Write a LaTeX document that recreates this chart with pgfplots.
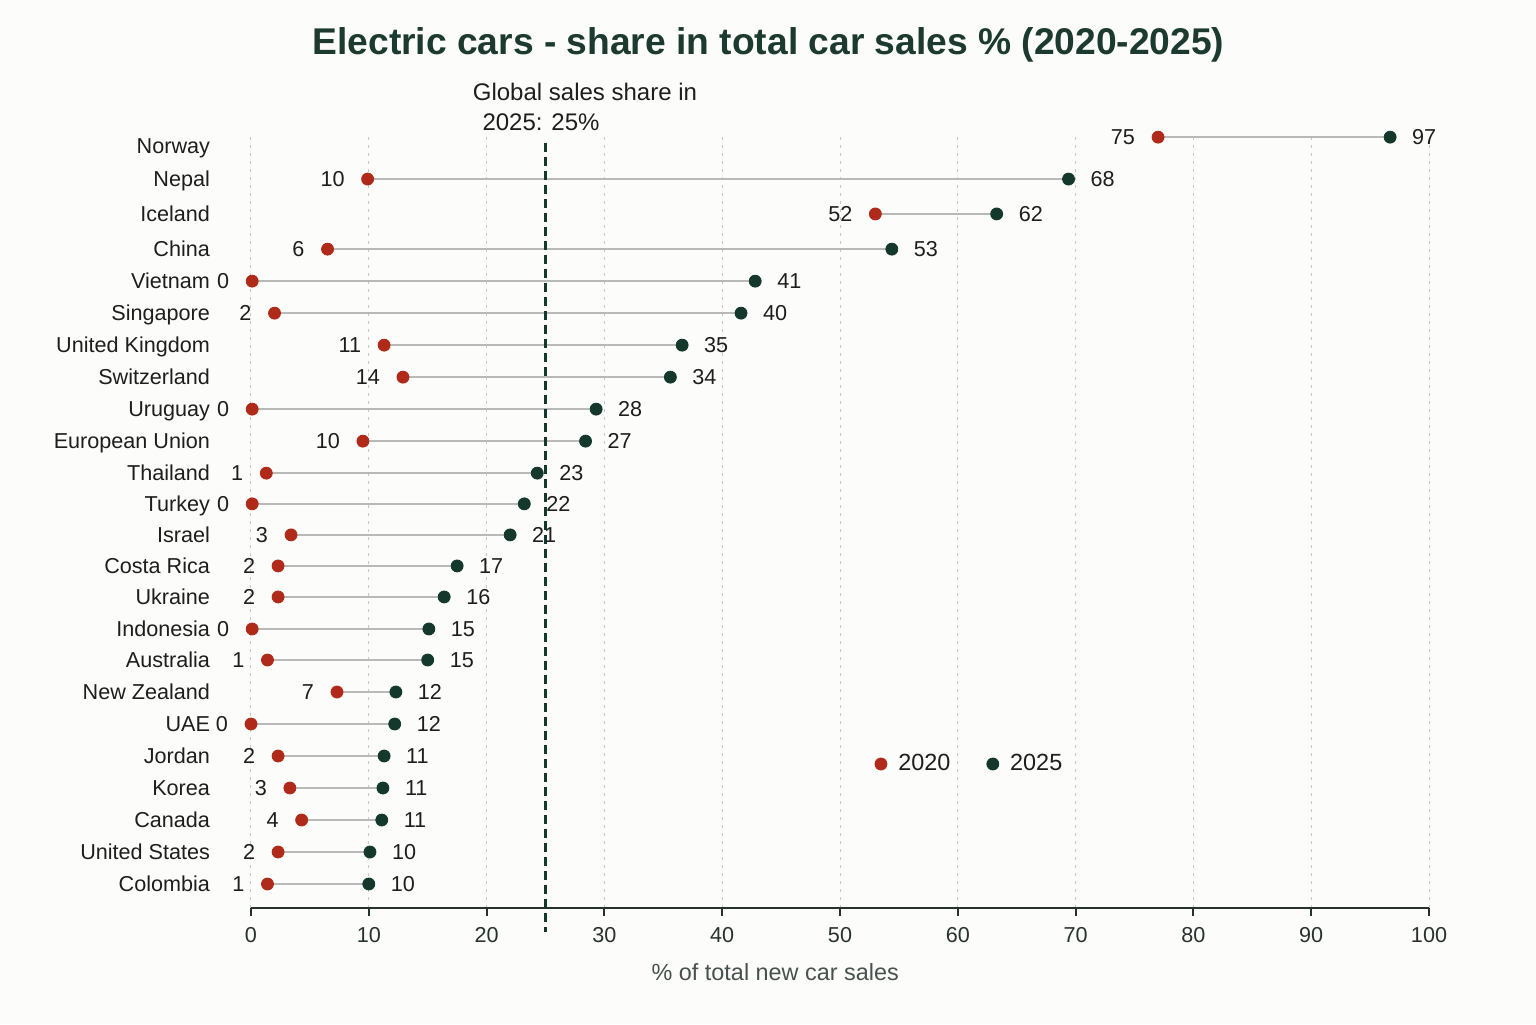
\documentclass[border=0pt]{standalone}
\usepackage{pgfplots}
\pgfplotsset{compat=1.18}
\usepackage{pgfplotstable}
\usepackage{fontspec}
\setmainfont{Liberation Sans}
\definecolor{cA}{HTML}{B02A1A}
\definecolor{cB}{HTML}{15382C}
\definecolor{ttl}{HTML}{1C3A2F}
\definecolor{bg}{HTML}{FCFCFA}
\definecolor{txt}{HTML}{1E1E1E}
\definecolor{tick}{HTML}{27322E}

% y = row position, a = 2020 share, b = 2025 share, la/lb = printed labels
\pgfplotstableread{
y     a     b     la  lb
24.09 77.0  96.7  75  97
22.78 9.9   69.4  10  68
21.69 53.0  63.3  52  62
20.59 6.5   54.4  6   53
19.59 0.1   42.8  0   41
18.59 2.0   41.6  2   40
17.59 11.3  36.6  11  35
16.59 12.9  35.6  14  34
15.59 0.1   29.3  0   28
14.59 9.5   28.4  10  27
13.59 1.3   24.3  1   23
12.63 0.1   23.2  0   22
11.66 3.4   22.0  3   21
10.69 2.3   17.5  2   17
9.72  2.3   16.4  2   16
8.72  0.1   15.1  0   15
7.75  1.4   15.0  1   15
6.75  7.3   12.3  7   12
5.75  0.0   12.2  0   12
4.75  2.3   11.3  2   11
3.75  3.3   11.2  3   11
2.75  4.3   11.1  4   11
1.75  2.3   10.1  2   10
0.75  1.4   10.0  1   10
}\data

\begin{document}
\begin{tikzpicture}[x=1pt,y=1pt]
\fill[bg] (0,0) rectangle (768,512);
\node[anchor=base, font=\fontsize{18.6}{22}\selectfont\bfseries, text=ttl] at (384.25,484.5) {Electric cars - share in total car sales \% (2020-2025)};
\begin{axis}[
  at={(125.5pt,58pt)}, anchor=south west,
  scale only axis, width=589pt, height=387.5pt,
  xmin=0, xmax=100, ymin=0, ymax=24.22,
  clip=false,
  /pgf/number format/assume math mode=true,
  axis x line=bottom, axis y line=left,
  axis line style={-},
  x axis line style={line width=1pt, color=tick},
  y axis line style={draw=none},
  xtick={0,10,...,100},
  xtick align=outside,
  major tick length=4pt,
  xtick style={line width=1pt, color=tick},
  ytick style={draw=none},
  xmajorgrids,
  grid style={color=gray!45, line width=0.5pt, dash pattern=on 1.5pt off 2.5pt},
  ytick={0.75,1.75,2.75,3.75,4.75,5.75,6.75,7.75,8.72,9.72,10.69,11.66,12.63,13.59,14.59,15.59,16.59,17.59,18.59,19.59,20.59,21.69,22.78,23.81},
  yticklabels={Colombia,United States,Canada,Korea,Jordan,UAE,New Zealand,Australia,Indonesia,Ukraine,Costa Rica,Israel,Turkey,Thailand,European Union,Uruguay,Switzerland,United Kingdom,Singapore,Vietnam,China,Iceland,Nepal,Norway},
  yticklabel style={font=\fontsize{10.8}{13}\selectfont, text=txt, xshift=-15pt, text height=7.8pt, text depth=0pt},
  xticklabel style={font=\fontsize{10.8}{13}\selectfont, text=tick, yshift=-2pt},
  xlabel={\% of total new car sales},
  xlabel style={at={(axis description cs:0.445,0)}, anchor=center, yshift=-32pt, font=\fontsize{11.7}{14}\selectfont, text=tick!85!white},
  legend style={at={(axis cs:52.9,4.5)}, anchor=west, draw=none, fill=none, inner sep=0pt,
     legend columns=2, font=\fontsize{11.7}{14}\selectfont, text=txt,
     /tikz/every odd column/.append style={column sep=3.5pt},
     /tikz/every even column/.append style={column sep=16pt}},
]
\addlegendimage{legend image code/.code={\fill[cA] (0pt,0pt) circle (3pt);}}
\addlegendentry{2020}
\addlegendimage{legend image code/.code={\fill[cB] (0pt,0pt) circle (3pt);}}
\addlegendentry{2025}

\addplot[forget plot, mark=none, draw=gray!55, line width=1pt,
  quiver={u=\thisrow{b}-\thisrow{a}, v=0}] table[x=a, y=y] {\data};

\addplot[forget plot, cB, line width=1.1pt, dash pattern=on 4.5pt off 2.5pt] coordinates {(25,23.91) (25,-0.75)};

\addplot[forget plot, only marks, mark=*, mark size=3pt, color=cA,
  nodes near coords, point meta=explicit symbolic,
  every node near coord/.append style={anchor=east, xshift=-8pt, font=\fontsize{10.8}{13}\selectfont, text=txt}]
  table[x=a, y=y, meta=la] {\data};
\addplot[forget plot, only marks, mark=*, mark size=3pt, color=cB,
  nodes near coords, point meta=explicit symbolic,
  every node near coord/.append style={anchor=west, xshift=7.5pt, font=\fontsize{10.8}{13}\selectfont, text=txt}]
  table[x=b, y=y, meta=lb] {\data};

\node[anchor=base, font=\fontsize{12}{14}\selectfont, text=txt] at (axis cs:28.35,25.25) {Global sales share in};
\node[anchor=base, font=\fontsize{12}{14}\selectfont, text=txt] at (axis cs:24.62,24.31) {2025: 25\%};
\end{axis}
\end{tikzpicture}
\end{document}
